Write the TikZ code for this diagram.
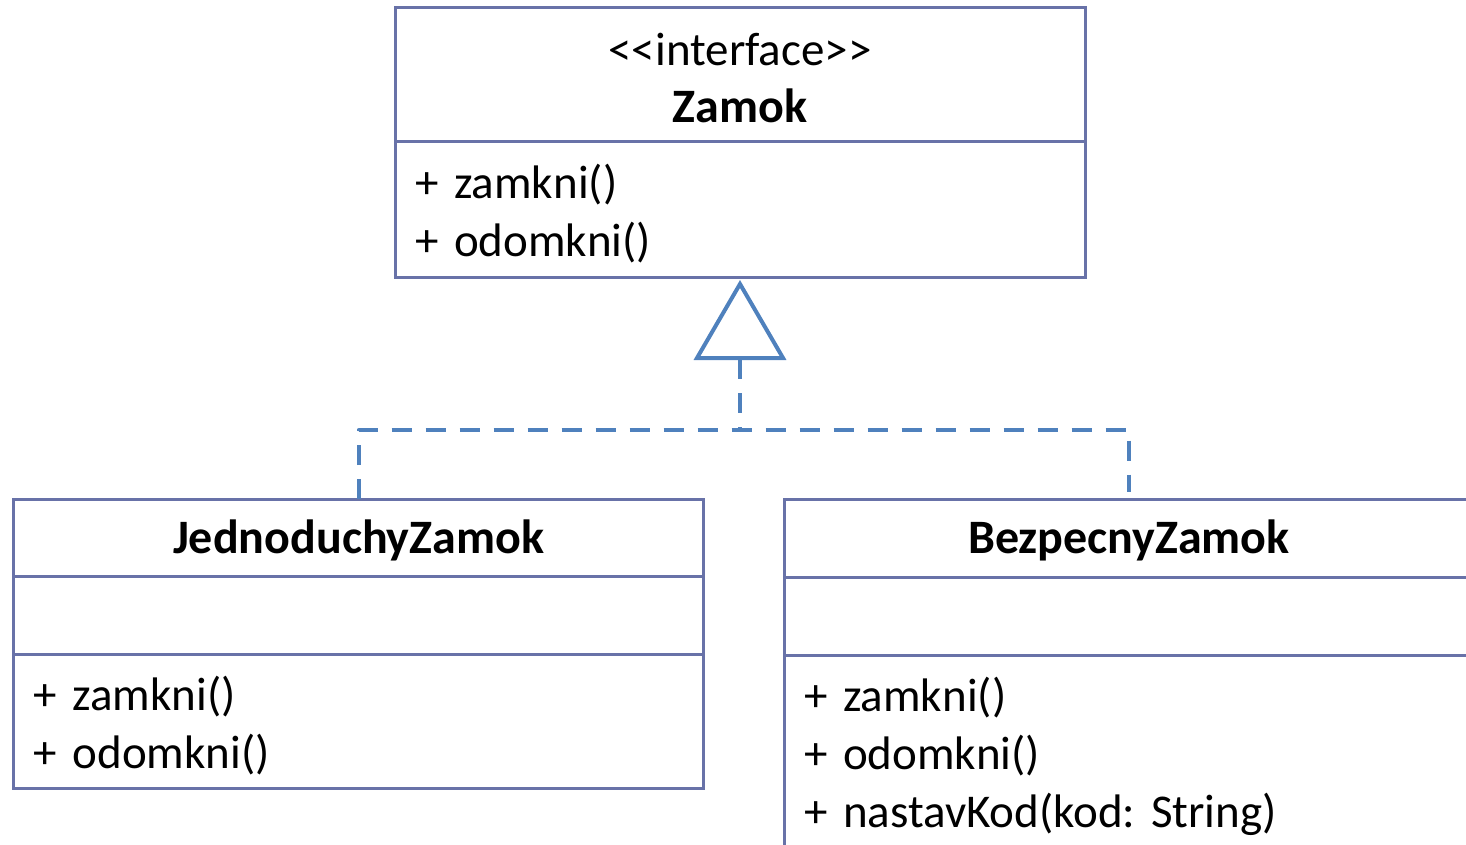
\documentclass[tikz,border=0pt]{standalone}
\usepackage{fontspec}
\setmainfont{Carlito}
\usetikzlibrary{arrows.meta,positioning}
\definecolor{boxline}{RGB}{104,114,168}
\definecolor{linkblue}{RGB}{79,129,189}

\begin{document}
\begin{tikzpicture}[x=0.5pt,y=-0.5pt]
\useasboundingbox (0,0) rectangle (1466,845);
\tikzstyle{umlpart} = [rectangle,draw=boxline,line width=1.5pt,minimum width=345pt,inner sep=0pt,outer sep=0pt,anchor=north,font=\fontsize{23.5}{29}\selectfont\frenchspacing]
\tikzstyle{umlops} = [umlpart,text width=325pt,align=left]
\tikzstyle{umlname} = [umlpart,font=\fontsize{24}{29}\selectfont\bfseries]
\tikzstyle{realize} = [draw=linkblue,line width=2pt,dash pattern=on 10pt off 7pt,line join=round]
%%%%%%%%%%%%%%%%%%%%%%%%%%%%%
% interface Zamok
%%%%%%%%%%%%%%%%%%%%%%%%%%%%%
\node [umlpart,minimum height=67pt,align=center] (zamok) at (740,8){\rule{0pt}{19pt}\textless\kern0pt\textless interface\textgreater\kern0pt\textgreater\\[-0.5pt]{\fontsize{24}{29}\selectfont\bfseries Zamok}};
\node [umlops,minimum height=67.5pt] (zamok_op) at (zamok.south){\rule{0pt}{21.5pt}+ zamkni()\\+ odomkni()};
%%%%%%%%%%%%%%%%%%%%%%%%%%%%%
% JednoduchyZamok
%%%%%%%%%%%%%%%%%%%%%%%%%%%%%
\node [umlname,minimum height=38.5pt] (jedno) at (358.5,499){\rule{0pt}{19.5pt}JednoduchyZamok};
\node [umlpart,minimum height=39pt] (jedno_attr) at (jedno.south){};
\node [umlops,minimum height=67pt] (jedno_op) at (jedno_attr.south){\rule{0pt}{21.5pt}+ zamkni()\\+ odomkni()};
%%%%%%%%%%%%%%%%%%%%%%%%%%%%%
% BezpecnyZamok
%%%%%%%%%%%%%%%%%%%%%%%%%%%%%
\node [umlname,minimum height=39pt] (bezp) at (1129,499){\rule{0pt}{19.5pt}BezpecnyZamok};
\node [umlpart,minimum height=39pt] (bezp_attr) at (bezp.south){};
\node [umlops,minimum height=97pt] (bezp_op) at (bezp_attr.south){\rule{0pt}{21.5pt}+ zamkni()\\+ odomkni()\\+ nastavKod(kod: String)};
%%%%%%%%%%%%%%%%%%%%%%%%%%%%%
% realizations
%%%%%%%%%%%%%%%%%%%%%%%%%%%%%
\coordinate (joint) at (740,430);
\draw [realize] (jedno.north) |- (joint) -| ([yshift=3.5pt]bezp.north);
\draw [realize,{Triangle[open,length=40pt,width=46pt]}-,shorten <=1.5pt] (zamok_op.south) -- (joint);
\end{tikzpicture}
\end{document}
